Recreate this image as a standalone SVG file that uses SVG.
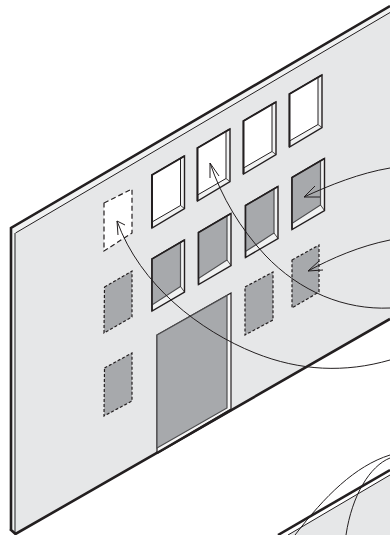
<svg xmlns="http://www.w3.org/2000/svg" width="390" height="535" viewBox="0 0 390 535">
<style>
.wall{fill:#e6e7e8;stroke:none}
.frame{fill:#f1f2f2;stroke:#231f20;stroke-width:1.4;stroke-linejoin:miter}
.white{fill:#fff;stroke:#231f20;stroke-width:1}
.grey{fill:#a7a9ac;stroke:#4d4d4f;stroke-width:1.2}
.edge{fill:none;stroke:#231f20;stroke-width:2}
.dash{fill:#a7a9ac;stroke:#231f20;stroke-width:1.2;stroke-dasharray:3 2}
.dashw{fill:#fff;stroke:#231f20;stroke-width:1.2;stroke-dasharray:5 3}
.arc{fill:none;stroke:#231f20;stroke-width:1}
</style>
<defs>
<g id="win-white"><polygon class="frame" points="0,0 32.500,-19 32.500,33.500 0,53"/><polygon class="white" points="0,0 28.500,-16.700 28.500,30.500 0,47"/><path class="edge" d="M0,53V0L32.500,-19"/><path d="M28.500,30.500L32.500,33.500" stroke="#231f20" stroke-width=".8"/></g>
<g id="win-grey"><polygon class="frame" points="0,0 32.500,-19 32.500,33 0,52"/><polygon class="grey" points="0,0 28.500,-16.700 28.500,27.500 0,46"/><path fill="none" stroke="#231f20" stroke-width="1.5" d="M0,52V0L32.500,-19"/><path d="M28.500,27.500L32.500,33" stroke="#231f20" stroke-width=".8"/></g>
</defs>
<g id="wall">
<polygon class="wall" points="15,233 390,12 390,319 15,534"/>
<polygon points="12,229 390,7 390,12 15,233" fill="#f1f2f2"/>
<polygon points="12,229 15,233 15,533 12,529" fill="#f1f2f2"/>
<path d="M11,529V228L390,6" fill="none" stroke="#231f20" stroke-width="2.6"/>
<path d="M15.500,233L390,12.500" fill="none" stroke="#231f20" stroke-width="1"/>
<path d="M15,233V533" fill="none" stroke="#58595b" stroke-width="1.4"/>
<path d="M10,529L15.500,534L390,319" fill="none" stroke="#231f20" stroke-width="2.6"/>
</g>
<g id="window-top-1"><use href="#win-white" x="152" y="175"/></g>
<g id="window-top-2"><use href="#win-white" x="197.500" y="148"/></g>
<g id="window-top-3"><use href="#win-white" x="243.500" y="121"/></g>
<g id="window-top-4"><use href="#win-white" x="289.500" y="94"/></g>
<g id="window-mid-1"><use href="#win-grey" x="152" y="259"/></g>
<g id="window-mid-2"><use href="#win-grey" x="198.500" y="232.500"/></g>
<g id="window-mid-3"><use href="#win-grey" x="245.500" y="205.500"/></g>
<g id="window-mid-4"><use href="#win-grey" x="292" y="177.500"/></g>
<g id="opening-white"><polygon class="dashw" points="104,203 132,189 132,233 104,251"/></g>
<g id="opening-b"><polygon class="dash" points="104.500,287 132,271 132,317 104,333"/></g>
<g id="opening-c"><polygon class="dash" points="104.500,368 132,353 132,401 104,416"/></g>
<g id="opening-d"><polygon class="dash" points="245,287 273,272 273,320 245,335"/></g>
<g id="opening-e"><polygon class="dash" points="292,260 319,245 319,292 292,308"/></g>
<g id="door">
<polygon fill="#f7f7f7" stroke="#231f20" stroke-width="1.2" points="157,335 231,293 231,409 157,453"/>
<polygon fill="#a7a9ac" stroke="#4d4d4f" stroke-width="1.2" points="157,335 227,295.500 227,408 157,448"/>
<path d="M157,453L231,410" fill="none" stroke="#231f20" stroke-width="2.6"/>
</g>
<g id="wall-lower">
<polygon class="wall" points="288,535 390,475 390,535"/>
<path d="M278,535L390,470" fill="none" stroke="#231f20" stroke-width="2.6"/>
<path d="M288,535L390,475" fill="none" stroke="#231f20" stroke-width="1"/>
</g>
<g id="connectors">
<path class="arc" d="M390,360C345,373 300,371 255,353C200,331 140,285 117,221"/>
<path class="arc" d="M390,308C345,310 300,292 265,255C240,228 222,198 210,163"/>
<path class="arc" d="M390,168C360,173 330,185 304,197"/>
<path class="arc" d="M390,240C360,246 332,258 308,271"/>
<path class="arc" d="M125,225L117,221L118,235"/>
<path class="arc" d="M219,176L210,163L210,178"/>
<path class="arc" d="M315,186L304,197L320,197"/>
<path class="arc" d="M319,261L308,271L323,270"/>
<path class="arc" d="M390,455C355,466 325,496 295,535"/>
<path class="arc" d="M390,458C370,466 352,495 346,535"/>
</g>
</svg>
